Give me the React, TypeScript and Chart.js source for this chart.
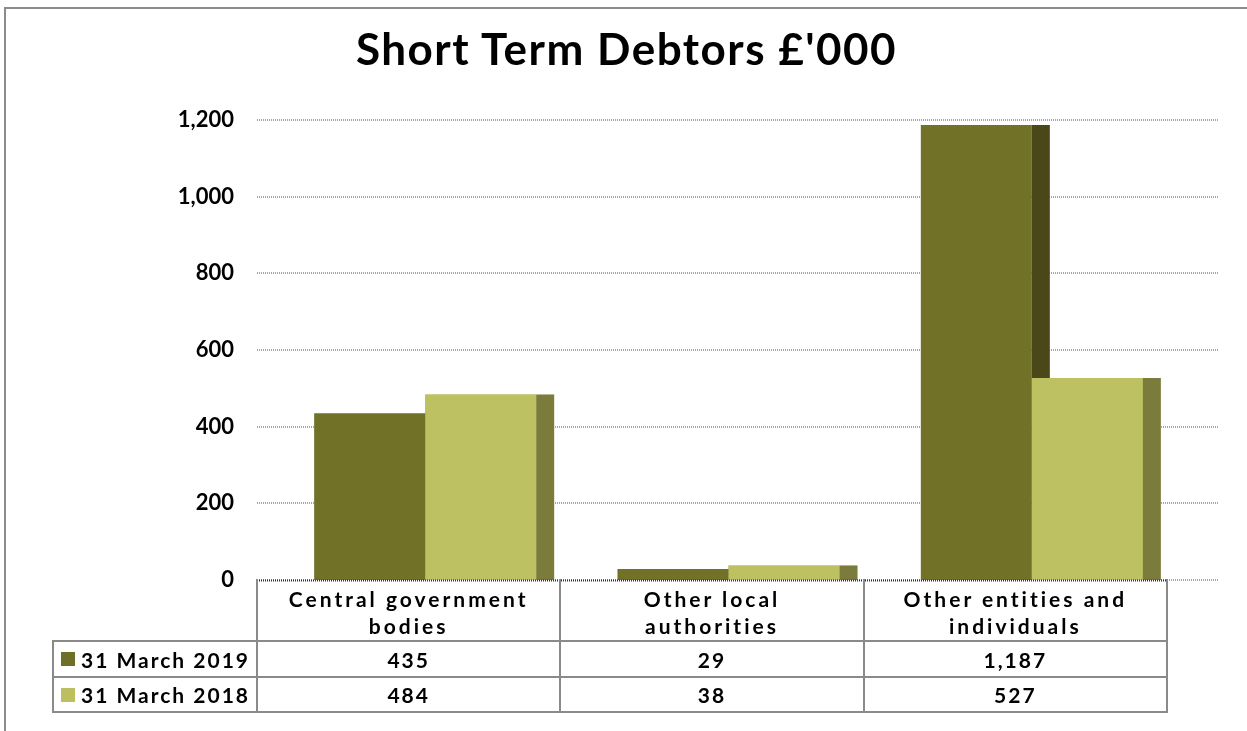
import React, { useEffect, useRef, useState } from "react";
import { Chart, registerables } from "chart.js";

Chart.register(...registerables);

// ---- data ----
const categories: string[][] = [
  ["Central government", "bodies"],
  ["Other local", "authorities"],
  ["Other entities and", "individuals"],
];
const seriesNames = ["31 March 2019", "31 March 2018"];
const values2019 = [435, 29, 1187];
const values2018 = [484, 38, 527];
const yTickValues = [0, 200, 400, 600, 800, 1000, 1200];
const chartTitle = "Short Term Debtors £'000";

// ---- styles ----
const FRONT = ["#717128", "#bec162"];
const SIDE = ["#4a4719", "#7b7b3c"];
const LEGEND_SWATCH = ["#6f6f28", "#bcbf5e"];
const FONT = "Lato, 'Open Sans', sans-serif";
const SHIFT = 16.5; // depth offset between bars and category table
const GRID_EXT = 34.5;
const SIDE_FRAC = 18 / 111;
const BORDER = "#8a8a8a";

const fmt = (v: number) => v.toLocaleString("en-US");

const drawSides = (chart: any, dsIndex: number) => {
  const ctx = chart.ctx;
  const meta = chart.getDatasetMeta(dsIndex);
  ctx.save();
  ctx.fillStyle = SIDE[dsIndex];
  meta.data.forEach((bar: any) => {
    const { x, y, base, width } = bar.getProps(["x", "y", "base", "width"], true);
    ctx.fillRect(x + width / 2, y, width * SIDE_FRAC, base - y);
  });
  ctx.restore();
};

const sidePlugin = {
  id: "sides3d",
  afterDatasetsDraw(chart: any) {
    const ctx = chart.ctx;
    // series 0 depth faces, then series 1 redrawn in front of them
    drawSides(chart, 0);
    chart.getDatasetMeta(1).data.forEach((bar: any) => bar.draw(ctx, chart.chartArea));
    drawSides(chart, 1);
    // category axis line
    const ys = chart.scales.y;
    const py = Math.round(ys.getPixelForValue(0)) + 0.5;
    ctx.save();
    ctx.lineWidth = 2;
    ctx.setLineDash([1, 1]);
    ctx.strokeStyle = "#333333";
    ctx.beginPath();
    ctx.moveTo(chart.chartArea.left - SHIFT, py);
    ctx.lineTo(chart.chartArea.right - SHIFT, py);
    ctx.stroke();
    ctx.restore();
  },
};

const gridPlugin = {
  id: "grid3d",
  beforeDatasetsDraw(chart: any) {
    const { ctx, chartArea, scales } = chart;
    const ys = scales.y;
    ctx.save();
    ctx.lineWidth = 2;
    ctx.setLineDash([1, 1]);
    ctx.strokeStyle = "#a6a6a6";
    ys.ticks.forEach((t: any) => {
      const py = Math.round(ys.getPixelForValue(t.value));
      ctx.beginPath();
      ctx.moveTo(chartArea.left - SHIFT, py);
      ctx.lineTo(chartArea.right + GRID_EXT, py);
      ctx.stroke();
    });
    ctx.restore();
  },
};

type Geo = { cols: number[]; colW: number; top: number };

export default function App() {
  const canvasRef = useRef<HTMLCanvasElement | null>(null);
  const [geo, setGeo] = useState<Geo | null>(null);

  useEffect(() => {
    if (!canvasRef.current) return;
    const chart = new Chart(canvasRef.current, {
      type: "bar",
      data: {
        labels: categories.map((c) => c.join(" ")),
        datasets: [
          {
            label: seriesNames[0],
            data: values2019,
            backgroundColor: FRONT[0],
            borderWidth: 0,
            categoryPercentage: 0.732,
            barPercentage: 1.0,
          },
          {
            label: seriesNames[1],
            data: values2018,
            backgroundColor: FRONT[1],
            borderWidth: 0,
            categoryPercentage: 0.732,
            barPercentage: 1.0,
          },
        ],
      },
      options: {
        responsive: false,
        animation: false,
        devicePixelRatio: 1,
        layout: { padding: { left: 0, right: 63.5, top: 120, bottom: 151 } },
        plugins: {
          legend: { display: false },
          tooltip: { enabled: false },
          title: { display: false },
        },
        scales: {
          x: { type: "category", display: false },
          y: {
            min: 0,
            max: 1200,
            afterBuildTicks: (scale: any) => {
              scale.ticks = yTickValues.map((v) => ({ value: v }));
            },
            afterFit: (scale: any) => {
              scale.width = 273.5;
            },
            grid: { display: false, drawTicks: false },
            border: { display: false },
            ticks: {
              padding: 39.5,
              color: "#000",
              font: { family: FONT, size: 22, weight: "bold" },
              callback: (v: any) => fmt(Number(v)),
            },
          },
        },
      },
      plugins: [gridPlugin, sidePlugin],
    });
    const xs: any = chart.scales.x;
    const colW = (chart.chartArea.right - chart.chartArea.left) / categories.length;
    const cols = categories.map((_, i) => xs.getPixelForValue(i) - colW / 2 - SHIFT);
    setGeo({ cols, colW, top: chart.scales.y.getPixelForValue(0) });
    return () => chart.destroy();
  }, []);

  const textStyle: React.CSSProperties = {
    fontFamily: FONT,
    fontWeight: 700,
    fontSize: 21,
    color: "#000",
    letterSpacing: "2px",
  };

  const cell = (
    key: string,
    left: number,
    top: number,
    width: number,
    height: number,
    content: React.ReactNode,
    extra: React.CSSProperties = {}
  ) => (
    <div
      key={key}
      style={{
        position: "absolute",
        left: left - 1,
        top: top - 1,
        width: width + 2,
        height: height + 2,
        boxSizing: "border-box",
        border: `2px solid ${BORDER}`,
        display: "flex",
        alignItems: "center",
        justifyContent: "center",
        ...textStyle,
        ...extra,
      }}
    >
      {content}
    </div>
  );

  const table: React.ReactNode[] = [];
  if (geo) {
    const headerH = 61;
    const rowH = [36, 35];
    const legendW = 204;
    const t0 = geo.top;
    categories.forEach((c, i) => {
      table.push(
        cell(
          `h${i}`,
          geo.cols[i],
          t0,
          geo.colW,
          headerH,
          <div style={{ textAlign: "center", lineHeight: "27px" }}>
            {c.map((line, j) => (
              <div key={j}>{line}</div>
            ))}
          </div>,
          { borderTop: "none", alignItems: "flex-start", paddingTop: 6, letterSpacing: "3px" }
        )
      );
    });
    const series = [values2019, values2018];
    let rowTop = t0 + headerH;
    series.forEach((vals, r) => {
      table.push(
        cell(
          `l${r}`,
          geo.cols[0] - legendW,
          rowTop,
          legendW,
          rowH[r],
          <div style={{ display: "flex", alignItems: "center" }}>
            <span
              style={{
                display: "inline-block",
                width: 14,
                height: 14,
                background: LEGEND_SWATCH[r],
                marginRight: 6,
              }}
            />
            <span>{seriesNames[r]}</span>
          </div>,
          { justifyContent: "flex-start", paddingLeft: 7 }
        )
      );
      vals.forEach((v, i) => {
        table.push(cell(`v${r}-${i}`, geo.cols[i], rowTop, geo.colW, rowH[r], fmt(v)));
      });
      rowTop += rowH[r];
    });
  }

  return (
    <div
      style={{
        position: "fixed",
        left: 0,
        top: 0,
        width: 1247,
        height: 731,
        overflow: "hidden",
        background: "#fff",
      }}
    >
      <div
        style={{
          position: "absolute",
          left: 4,
          top: 7,
          width: 1400,
          height: 900,
          borderLeft: "2px solid #8c8c8c",
          borderTop: "2px solid #8c8c8c",
        }}
      />
      <canvas
        ref={canvasRef}
        width={1247}
        height={731}
        style={{ position: "absolute", left: 0, top: 0, width: 1247, height: 731 }}
      />
      <div
        style={{
          position: "absolute",
          left: 0,
          top: 22,
          width: 1253,
          textAlign: "center",
          fontFamily: FONT,
          fontWeight: 700,
          fontSize: 44,
          lineHeight: "53px",
          letterSpacing: "1.5px",
          color: "#000",
          whiteSpace: "nowrap",
        }}
      >
        {chartTitle}
      </div>
      {table}
    </div>
  );
}
